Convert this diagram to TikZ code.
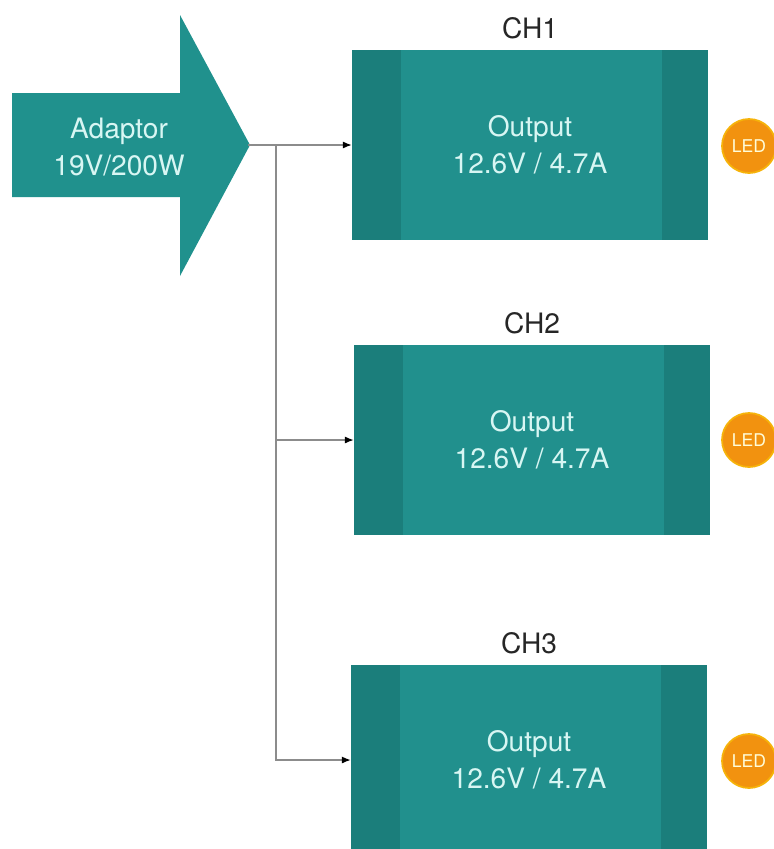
\documentclass[tikz,border=0pt]{standalone}
\usepackage{fontspec}
\setmainfont{TeX Gyre Heros}
\usetikzlibrary{arrows.meta}
\usetikzlibrary{positioning}

\definecolor{boxteal}{HTML}{21908D}
\definecolor{stripteal}{HTML}{1B7E7B}
\definecolor{arrowteal}{HTML}{20918D}
\definecolor{paletext}{HTML}{D8F6F3}
\definecolor{ledorange}{HTML}{F2920F}
\definecolor{wiregray}{HTML}{8C8C8C}

\begin{document}
\begin{tikzpicture}[x=0.02cm,y=-0.02cm,
    chbox/.style={fill=boxteal,minimum width=7.12cm,minimum height=3.8cm,inner sep=0pt,
        text=paletext,align=center,font=\fontsize{16}{21}\selectfont},
    chlabel/.style={inner sep=0pt,text=black!85,font=\fontsize{16}{19}\selectfont},
    led/.style={circle,fill=ledorange,draw=ledorange!70!yellow,line width=1pt,minimum size=1.08cm,inner sep=0pt,
        text=yellow!15!white,font=\fontsize{10}{11}\selectfont},
    wire/.style={draw=wiregray,line width=0.7pt,-{Latex[length=5pt,width=4pt,black]}}]
        \clip (0,0) rectangle (774,849);
        % adaptor arrow
        \fill[arrowteal] (12,93) -- (180,93) -- (180,15) -- (250,145) -- (180,276) -- (180,197) -- (12,197) -- cycle;
        \node[text=paletext,align=center,font=\fontsize{16}{21}\selectfont] (adaptor) at (119,147) {Adaptor\\19V/200W};
        \coordinate (tip) at (248,145);
        \coordinate (fork) at (276,145);
        % channels
        \node[chbox] (b1) at (530,145) {};
        \node[chbox] (b2) at (532,440) {};
        \node[chbox] (b3) at (529,760) {};
        \fill[stripteal] (b1.north west) rectangle ++(49,190);
        \fill[stripteal] (b1.north east) rectangle ++(-46,190);
        \fill[stripteal] (b2.north west) rectangle ++(49,190);
        \fill[stripteal] (b2.north east) rectangle ++(-46,190);
        \fill[stripteal] (b3.north west) rectangle ++(49,190);
        \fill[stripteal] (b3.north east) rectangle ++(-46,190);
        \node[chbox,fill=none] at (b1) {Output\\12.6V / 4.7A};
        \node[chbox,fill=none] at (b2) {Output\\12.6V / 4.7A};
        \node[chbox,fill=none] at (b3) {Output\\12.6V / 4.7A};
        \node[chlabel,above=6pt of b1] (ch1) {CH1};
        \node[chlabel,above=6pt of b2] (ch2) {CH2};
        \node[chlabel,above=6pt of b3] (ch3) {CH3};
        \node[led] (led1) at (749,146) {LED};
        \node[led] (led2) at (749,440) {LED};
        \node[led] (led3) at (749,761) {LED};
        % wiring
        \draw[wire] (tip) -- (b1.west);
        \draw[wire] (fork) |- (b2.west);
        \draw[wire] (fork) |- (b3.west);
    \end{tikzpicture}
\end{document}
